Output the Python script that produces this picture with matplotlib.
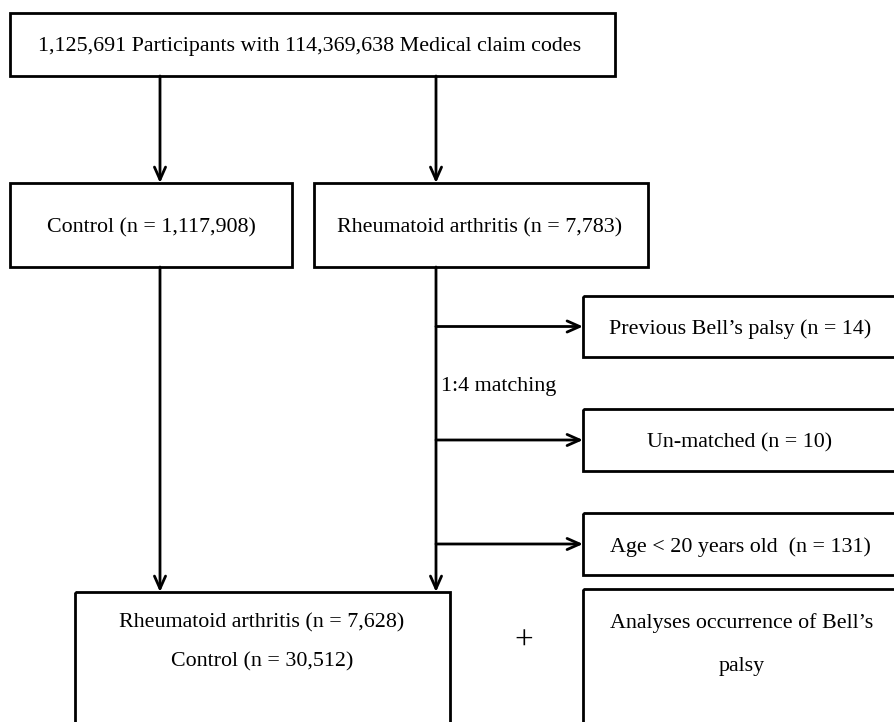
import matplotlib.pyplot as plt
from matplotlib.patches import Rectangle

# box labels
top_label = "1,125,691 Participants with 114,369,638 Medical claim codes"
group_labels = ["Control (n = 1,117,908)", "Rheumatoid arthritis (n = 7,783)"]
excl_labels = ["Previous Bell\u2019s palsy (n = 14)", "Un-matched (n = 10)",
               "Age < 20 years old  (n = 131)"]
final_labels = ["Rheumatoid arthritis (n = 7,628)", "Control (n = 30,512)"]
analysis_labels = ["Analyses occurrence of Bell\u2019s", "palsy"]
match_label = "1:4 matching"

plt.rcParams['font.family'] = ['Liberation Serif', 'DejaVu Serif']
fs = 15.8
lw = 2.0
dy = 3  # nudge text down so it sits centred like the original

fig = plt.figure(figsize=(8.94, 7.22), dpi=100)
ax = fig.add_axes([0, 0, 1, 1])
ax.set_xlim(0, 894)
ax.set_ylim(722, 0)
ax.axis('off')

def box(x0, y0, x1, y1):
    ax.add_patch(Rectangle((x0, y0), x1 - x0, y1 - y0, fill=False,
                           lw=lw, ec='black', clip_on=True))

def arrow(x0, y0, x1, y1):
    ax.annotate('', xy=(x1, y1), xytext=(x0, y0),
                arrowprops=dict(arrowstyle='->,head_length=0.9,head_width=0.4',
                                lw=lw, color='black', shrinkA=0, shrinkB=0))

def label(x, y, s, **kw):
    ax.text(x, y + dy, s, ha=kw.pop('ha', 'center'), va='center', fontsize=fs, **kw)

# top box
box(10, 13, 615, 76)
label(310, 44, top_label)

# group boxes
lx, rx = 160, 436
arrow(lx, 76, lx, 183)
arrow(rx, 76, rx, 183)
box(10, 183, 292, 267)
box(314, 183, 648, 267)
label(151, 225, group_labels[0])
label(480, 225, group_labels[1])

# exclusion boxes
excl_y = [(296, 357), (409, 471), (513, 575)]
for (y0, y1), lab in zip(excl_y, excl_labels):
    ym = (y0 + y1) / 2
    arrow(rx, ym, 583, ym)
    box(583, y0, 905, y1)
    label(740, ym, lab)
label(441, 384, match_label, ha='left')

# final boxes
arrow(lx, 267, lx, 592)
arrow(rx, 267, rx, 592)
box(75, 592, 450, 740)
label(262, 620, final_labels[0])
label(262, 659, final_labels[1])
ax.text(524, 641, '+', ha='center', va='center', fontsize=24)
box(583, 589, 905, 740)
label(742, 620, analysis_labels[0])
label(742, 664, analysis_labels[1])

fig.savefig('out.png', dpi=100, facecolor='white')
